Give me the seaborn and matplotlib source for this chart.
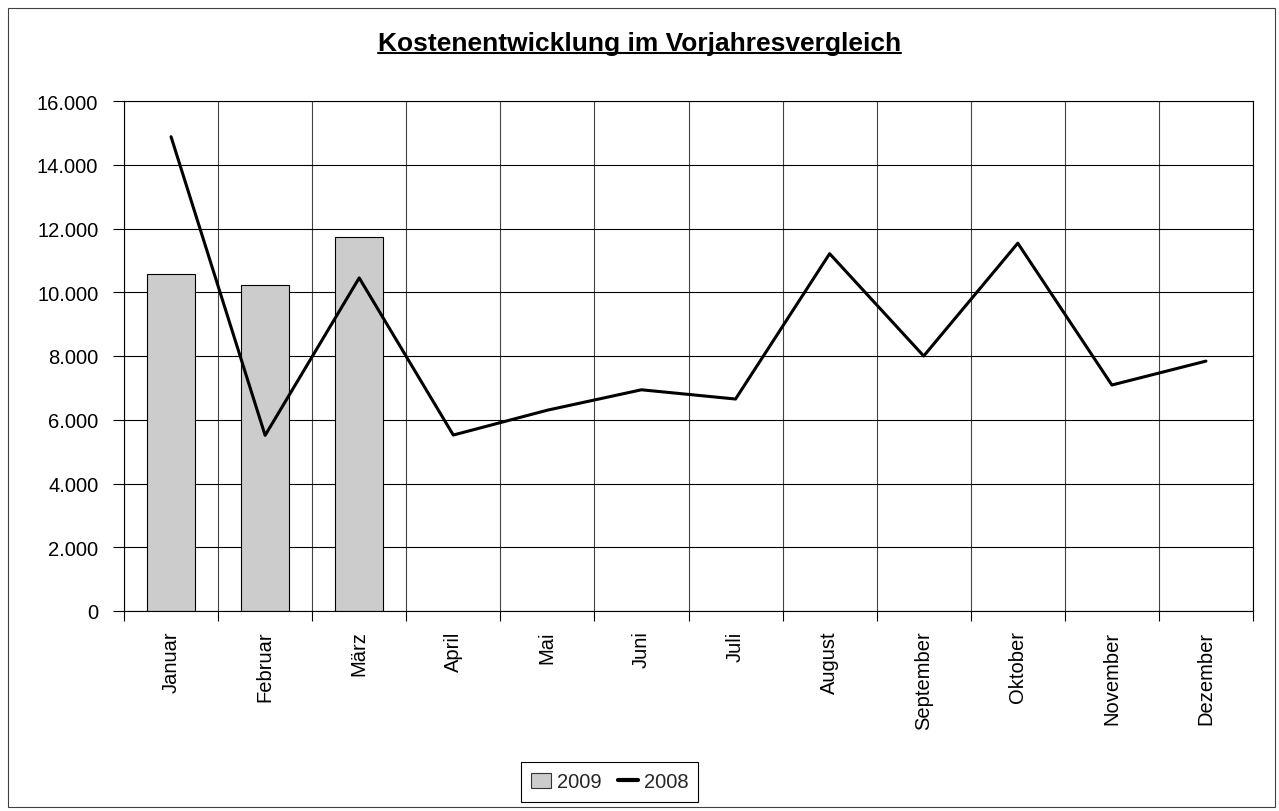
import matplotlib

matplotlib.use("Agg")
import matplotlib.pyplot as plt
import numpy as np
import pandas as pd
import seaborn as sns
from matplotlib.lines import Line2D
from matplotlib.patches import Patch, Rectangle

# Data
months = [
    "Januar", "Februar", "März", "April", "Mai", "Juni",
    "Juli", "August", "September", "Oktober", "November", "Dezember",
]
months_2009 = ["Januar", "Februar", "März"]
costs_2009 = [10560, 10230, 11740]
costs_2008 = [14880, 5510, 10450, 5520, 6300, 6940, 6650, 11210, 8000, 11540, 7090, 7840]
y_ticks = list(range(0, 16001, 2000))
y_tick_labels = [f"{v:,.0f}".replace(",", ".") for v in y_ticks]

sns.set_theme(style="white")
plt.rcParams["font.family"] = ["Liberation Sans", "DejaVu Sans"]

W, H = 1279, 812
fig = plt.figure(figsize=(W / 100, H / 100), dpi=100)
ax = fig.add_axes([124 / W, 1 - 612 / H, (1253 - 124) / W, (612 - 102) / H])

# Bars 2009
df_2009 = pd.DataFrame({"Monat": months_2009, "Kosten": costs_2009})
sns.barplot(
    data=df_2009, x="Monat", y="Kosten", order=months,
    color="#cccccc", saturation=1, edgecolor="black", linewidth=0.8,
    width=0.51, ax=ax, zorder=2,
)

# Line 2008
sns.lineplot(x=np.arange(len(months)), y=costs_2008, color="black", lw=2.2, ax=ax, zorder=3)

ax.set_xlim(-0.5, len(months) - 0.5)
ax.set_ylim(0, 16000)
ax.set_xlabel("")
ax.set_ylabel("")

ax.set_yticks(y_ticks)
ax.set_yticklabels(y_tick_labels)
ax.set_xticks(np.arange(len(months)))
ax.set_xticklabels(months, rotation=90)
ax.set_xticks(np.arange(-0.5, len(months), 1), minor=True)

ax.tick_params(axis="x", which="major", length=0, pad=14, labelsize=14.5, colors="black")
ax.tick_params(axis="x", which="minor", bottom=True, length=7.5, width=0.8,
               color="black", direction="out")
ax.tick_params(axis="y", which="major", left=True, length=8, width=0.8, color="black",
               direction="out", pad=10.5, labelsize=14.5, labelcolor="black")

ax.set_axisbelow(True)
ax.grid(axis="y", which="major", color="black", lw=0.8)
ax.grid(axis="x", which="major", visible=False)
ax.grid(axis="x", which="minor", color="#444444", lw=0.8)

for spine in ax.spines.values():
    spine.set_visible(True)
    spine.set_color("black")
    spine.set_linewidth(0.8)

# Title with underline
title = fig.text(0.5, 1 - 51 / H, "Kostenentwicklung im Vorjahresvergleich",
                 ha="center", va="baseline", fontsize=19, fontweight="bold", color="black")

# Legend
handles = [
    Patch(facecolor="#cccccc", edgecolor="#333333", linewidth=0.8),
    Line2D([], [], color="black", lw=3),
]
leg = fig.legend(
    handles=handles, labels=["2009", "2008"], ncol=2, loc="center",
    bbox_to_anchor=(609.5 / W, 1 - 783 / H), fontsize=14.5,
    frameon=True, fancybox=False, edgecolor="black", framealpha=1,
    handlelength=1.0, handleheight=0.8, handletextpad=0.3, columnspacing=0.8,
    borderpad=0.5,
)
leg.get_frame().set_linewidth(0.8)

# Outer chart border
fig.add_artist(Rectangle((8 / W, 4 / H), 1267 / W, 799 / H, transform=fig.transFigure,
                         fill=False, edgecolor="#404040", lw=0.8))

fig.canvas.draw()
bb = title.get_window_extent()
x0, x1 = bb.x0 / W, bb.x1 / W
y_line = 1 - 54 / H
fig.add_artist(Line2D([x0, x1], [y_line, y_line], transform=fig.transFigure,
                      color="black", lw=1.5))

fig.savefig("out.png", dpi=100)
plt.close(fig)
